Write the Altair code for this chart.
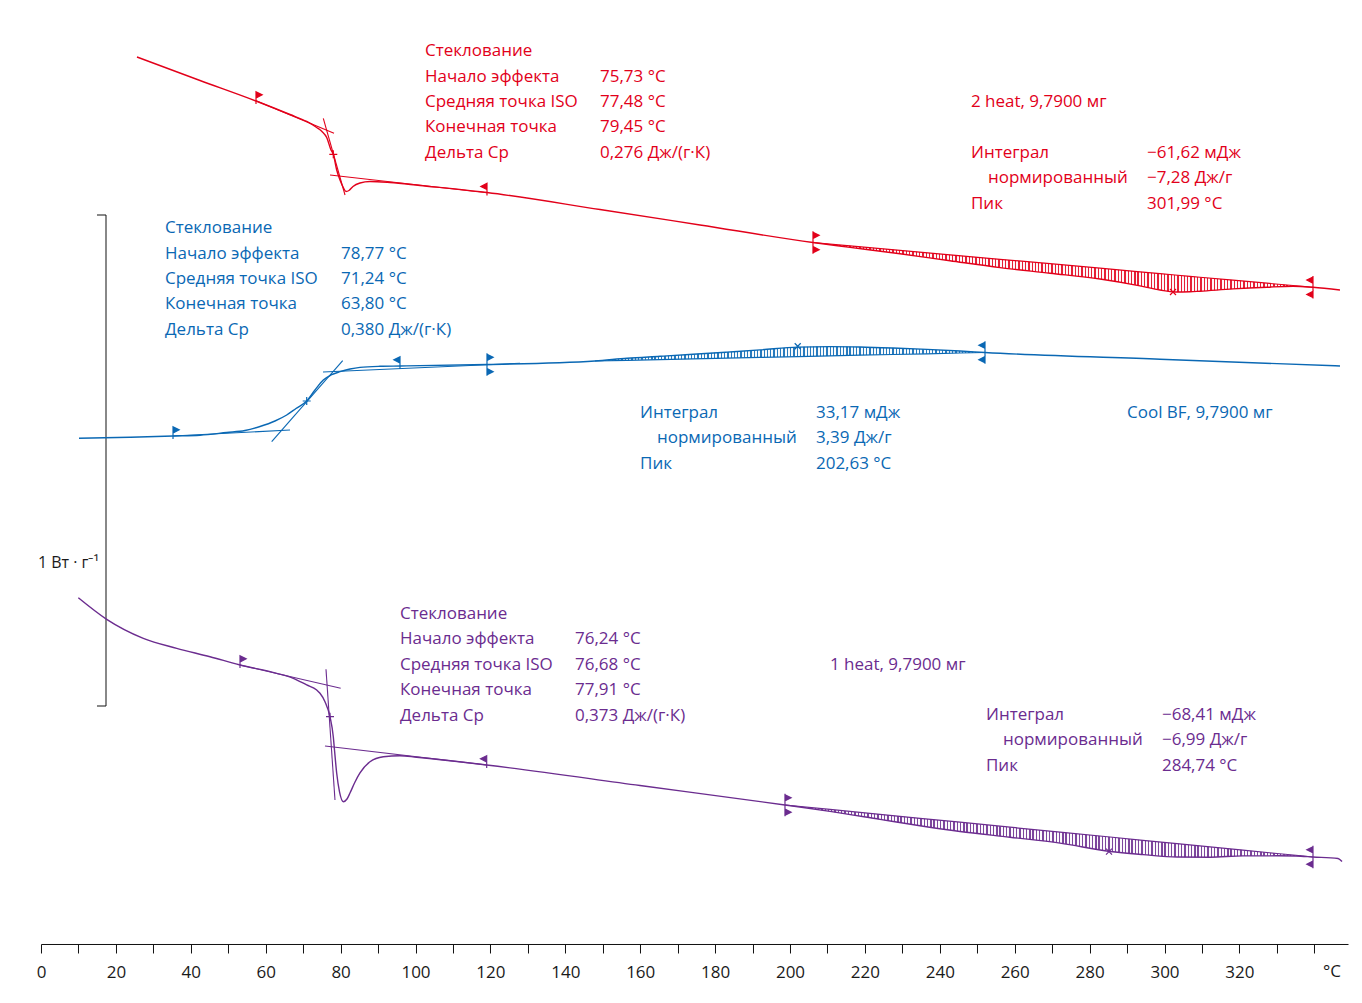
import altair as alt
import pandas as pd

RED, BLUE, PURPLE = "#e2001a", "#0a68b4", "#6b2c8f"
SERIES = ["2 heat", "Cool BF", "1 heat"]
COLORS = [RED, BLUE, PURPLE]
FONT = "Open Sans"

# ---------------- curves: temperature (°C) and heat flow (W/g, shifted for display)
red_T = [25.63, 42.46, 57.41, 66.49, 70.95, 73.62, 75.03, 76.29, 77.44, 78.05, 78.96, 79.84,
         80.72, 81.44, 82.24, 83.31, 85.18, 87.85, 93.19, 101.20, 119.09, 149.27, 175.97,
         206.14, 216.02, 229.37, 242.72, 256.07, 269.43, 282.78, 293.46, 298.80, 302.80,
         306.81, 309.48, 318.29, 327.37, 334.31, 339.65, 346.86]
red_Y = [1.8065, 1.7587, 1.7169, 1.6894, 1.6752, 1.6629, 1.6548, 1.6426, 1.6171, 1.6083,
         1.5764, 1.5560, 1.5407, 1.5326, 1.5346, 1.5428, 1.5499, 1.5530, 1.5509, 1.5448,
         1.5305, 1.4959, 1.4644, 1.4287, 1.4189, 1.4057, 1.3915, 1.3776, 1.3662, 1.3544,
         1.3405, 1.3320, 1.3279, 1.3283, 1.3295, 1.3342, 1.3377, 1.3396, 1.3375, 1.3320]
red_peak_slice = (23, 39)
red_base_Y = [1.4287, 1.4220, 1.4128, 1.4037, 1.3945, 1.3855, 1.3764, 1.3690, 1.3654,
              1.3625, 1.3599, 1.3580, 1.3521, 1.3458, 1.3411, 1.3375]

blue_T = [10.15, 23.77, 35.25, 42.46, 49.59, 54.47, 58.48, 62.48, 65.61, 68.09, 70.95, 73.16,
          75.38, 77.44, 79.84, 82.51, 85.18, 90.52, 95.86, 119.09, 147.93, 156.48, 165.29,
          174.10, 183.18, 191.99, 202.14, 210.68, 218.69, 227.50, 236.58, 245.39, 252.07,
          298.80, 346.86]
blue_Y = [1.0299, 1.0322, 1.0346, 1.0363, 1.0418, 1.0458, 1.0540, 1.0652, 1.0774, 1.0906,
          1.1059, 1.1283, 1.1487, 1.1589, 1.1656, 1.1711, 1.1745, 1.1766, 1.1772, 1.1802,
          1.1874, 1.1929, 1.1969, 1.2010, 1.2055, 1.2100, 1.2157, 1.2167, 1.2159, 1.2138,
          1.2110, 1.2077, 1.2047, 1.1910, 1.1772]
blue_peak_slice = (20, 33)
blue_base_Y = [1.1874, 1.1888, 1.1902, 1.1916, 1.1933, 1.1947, 1.1963, 1.1978, 1.1992,
               1.2006, 1.2020, 1.2037, 1.2047]

purple_T = [9.96, 17.54, 27.32, 36.24, 45.13, 53.14, 62.94, 67.37, 70.95, 73.62, 74.50, 75.83,
            77.17, 78.05, 78.37, 78.96, 79.71, 80.72, 81.71, 82.51, 83.85, 85.18, 87.85, 91.40,
            95.86, 100.32, 119.01, 159.95, 198.66, 210.68, 224.03, 234.71, 245.39, 258.74,
            272.10, 285.45, 294.26, 303.34, 312.15, 320.96, 330.04, 335.11, 339.65, 346.33,
            347.40]
purple_Y = [0.7053, 0.6613, 0.6226, 0.6022, 0.5851, 0.5682, 0.5513, 0.5411, 0.5275, 0.5173,
            0.5106, 0.4935, 0.4629, 0.4222, 0.3951, 0.3477, 0.3096, 0.2898, 0.2953, 0.3075,
            0.3299, 0.3483, 0.3713, 0.3815, 0.3835, 0.3802, 0.3646, 0.3228, 0.2831, 0.2701,
            0.2538, 0.2407, 0.2291, 0.2175, 0.2055, 0.1884, 0.1821, 0.1772, 0.1768, 0.1794,
            0.1796, 0.1792, 0.1772, 0.1741, 0.1680]
purple_peak_slice = (28, 43)
purple_base_Y = [0.2831, 0.2741, 0.2640, 0.2560, 0.2481, 0.2379, 0.2279, 0.2179, 0.2112,
                 0.2045, 0.1978, 0.1912, 0.1843, 0.1807, 0.1772]

# ---------------- glass-transition tangents (series, [T1, T2], [Y1, Y2])
tangents = [
    ("2 heat", [57.41, 78.24], [1.7175, 1.6511]),
    ("2 heat", [75.38, 81.18], [1.6817, 1.5255]),
    ("2 heat", [77.17, 119.01], [1.5662, 1.5301]),
    ("Cool BF", [35.25, 66.49], [1.0346, 1.0468]),
    ("Cool BF", [61.60, 80.56], [1.0230, 1.1880]),
    ("Cool BF", [75.30, 127.90], [1.1650, 1.1827]),
    ("1 heat", [53.14, 80.03], [0.5682, 0.5208]),
    ("1 heat", [76.10, 78.50], [0.5595, 0.2933]),
    ("1 heat", [75.83, 119.01], [0.4033, 0.3646]),
]

# ---------------- evaluation limits (series, T, Y, kind)
limits = [
    ("2 heat", 57.41, 1.7169, "R"), ("2 heat", 119.09, 1.5305, "L"),
    ("2 heat", 206.14, 1.4287, "RR"), ("2 heat", 339.65, 1.3375, "LL"),
    ("Cool BF", 35.25, 1.0346, "R"), ("Cool BF", 95.86, 1.1772, "L"),
    ("Cool BF", 119.09, 1.1802, "RR"), ("Cool BF", 252.07, 1.2047, "LL"),
    ("1 heat", 53.14, 0.5682, "R"), ("1 heat", 119.01, 0.3646, "L"),
    ("1 heat", 198.66, 0.2831, "RR"), ("1 heat", 339.65, 0.1772, "LL"),
]
midpoints = [("2 heat", 78.05, 1.6083), ("Cool BF", 70.95, 1.1059), ("1 heat", 77.17, 0.4629)]
peaks = [("2 heat", 302.27, 1.3279), ("Cool BF", 202.06, 1.2175), ("1 heat", 285.18, 0.1880)]

# ---------------- annotation texts
GLASS_LABELS = ["Стеклование", "Начало эффекта", "Средняя точка ISO", "Конечная точка", "Дельта Cp"]
PEAK_LABELS = ["Интеграл", "нормированный", "Пик"]
red_glass_values = ["", "75,73 °C", "77,48 °C", "79,45 °C", "0,276 Дж/(г·К)"]
blue_glass_values = ["", "78,77 °C", "71,24 °C", "63,80 °C", "0,380 Дж/(г·К)"]
purple_glass_values = ["", "76,24 °C", "76,68 °C", "77,91 °C", "0,373 Дж/(г·К)"]
red_peak_values = ["−61,62 мДж", "−7,28 Дж/г", "301,99 °C"]
blue_peak_values = ["33,17 мДж", "3,39 Дж/г", "202,63 °C"]
purple_peak_values = ["−68,41 мДж", "−6,99 Дж/г", "284,74 °C"]
sample_labels = ["2 heat, 9,7900 мг", "Cool BF, 9,7900 мг", "1 heat, 9,7900 мг"]

# block anchors: (label T, value T, first-row Y)
glass_anchor = {"2 heat": (102.54, 149.27, 1.8187), "Cool BF": (33.11, 80.11, 1.4582),
                "1 heat": (95.86, 142.59, 0.6721)}
peak_anchor = {"2 heat": (248.33, 295.33, 1.6110), "Cool BF": (159.95, 206.94, 1.0815),
               "1 heat": (252.34, 299.33, 0.4664)}
sample_anchor = {"2 heat": (248.33, 1.7149), "Cool BF": (289.99, 1.0815), "1 heat": (210.68, 0.5682)}
ROW = 0.0519
INDENT = 4.54

# scale bar: 1 W/g
bar_T = [14.95, 17.36, 17.36, 14.95]
bar_Y = [1.4847, 1.4847, 0.4847, 0.4847]

# ---------------- build frames
curve_rows, peak_rows = [], []
for name, T, Y, sl, B in [("2 heat", red_T, red_Y, red_peak_slice, red_base_Y),
                          ("Cool BF", blue_T, blue_Y, blue_peak_slice, blue_base_Y),
                          ("1 heat", purple_T, purple_Y, purple_peak_slice, purple_base_Y)]:
    for i, (t, y) in enumerate(zip(T, Y)):
        curve_rows.append({"series": name, "T": t, "Y": y, "i": i})
    for j, (t, y, b) in enumerate(zip(T[sl[0]:sl[1]], Y[sl[0]:sl[1]], B)):
        peak_rows.append({"series": name, "T": t, "Y": y, "B": b, "i": j})
curves = pd.DataFrame(curve_rows)
peakdf = pd.DataFrame(peak_rows)

tan_rows = []
for k, (name, ts, ys) in enumerate(tangents):
    for t, y in zip(ts, ys):
        tan_rows.append({"series": name, "tid": k, "T": t, "Y": y})
tandf = pd.DataFrame(tan_rows)

FLAG_PATHS = {
    "R": "M0,-0.9L0,0.3M0,-0.9L0.6,-0.6L0,-0.3Z",
    "L": "M0,-0.9L0,0.3M0,-0.9L-0.6,-0.6L0,-0.3Z",
    "RR": "M0,-1.1L0,1.1M0,-1L0.6,-0.7L0,-0.4ZM0,0.4L0.6,0.7L0,1Z",
    "LL": "M0,-1.1L0,1.1M0,-1L-0.6,-0.7L0,-0.4ZM0,0.4L-0.6,0.7L0,1Z",
}
flagdf = pd.DataFrame([{"series": s, "T": t, "Y": y, "shape": FLAG_PATHS[k]} for s, t, y, k in limits])
PLUS = "M-0.4,0L0.4,0M0,-0.4L0,0.4"
CROSS = "M-0.3,-0.3L0.3,0.3M-0.3,0.3L0.3,-0.3"
markdf = pd.DataFrame([{"series": s, "T": t, "Y": y, "shape": PLUS} for s, t, y in midpoints] +
                      [{"series": s, "T": t, "Y": y, "shape": CROSS} for s, t, y in peaks])

text_rows = []
gv = {"2 heat": red_glass_values, "Cool BF": blue_glass_values, "1 heat": purple_glass_values}
pv = {"2 heat": red_peak_values, "Cool BF": blue_peak_values, "1 heat": purple_peak_values}
for s, sample in zip(SERIES, sample_labels):
    lt, vt, y0 = glass_anchor[s]
    for r, (lab, val) in enumerate(zip(GLASS_LABELS, gv[s])):
        text_rows.append({"series": s, "T": lt, "Y": y0 - r * ROW, "text": lab})
        if val:
            text_rows.append({"series": s, "T": vt, "Y": y0 - r * ROW, "text": val})
    lt, vt, y0 = peak_anchor[s]
    for r, (lab, val) in enumerate(zip(PEAK_LABELS, pv[s])):
        text_rows.append({"series": s, "T": lt + (INDENT if r == 1 else 0), "Y": y0 - r * ROW, "text": lab})
        text_rows.append({"series": s, "T": vt, "Y": y0 - r * ROW, "text": val})
    st, sy = sample_anchor[s]
    text_rows.append({"series": s, "T": st, "Y": sy, "text": sample})
textdf = pd.DataFrame(text_rows)

bardf = pd.DataFrame({"T": bar_T, "Y": bar_Y, "i": range(4)})

# ---------------- scales / encodings
PX_PER_DEG = 3.745
XMAX = 349
W = XMAX * PX_PER_DEG
H = 936
YMAX = 936 / 491

cs = alt.Scale(domain=SERIES, range=COLORS)
xaxis = alt.Axis(values=list(range(0, 341, 10)),
                 labelExpr="datum.value % 20 == 0 && datum.value < 340 ? datum.label : ''",
                 title=None, grid=False, tickSize=9, labelPadding=12, domainColor="#111",
                 tickColor="#111", labelColor="#1a1a1a", labelFont=FONT, labelFontSize=17,
                 labelFlush=False, labelOverlap=False, domainWidth=1, tickWidth=1)
X = alt.X("T:Q", scale=alt.Scale(domain=[0, XMAX], nice=False, zero=False), axis=xaxis)
YS = alt.Scale(domain=[0, YMAX], nice=False, zero=False)
Y = alt.Y("Y:Q", scale=YS, axis=None)
C = alt.Color("series:N", scale=cs, legend=None)


def hatch(color, width_px, period=3.3, frac=0.4):
    n = max(1, int(width_px / period))
    stops = []
    for k in range(n):
        a, b, c = k / n, (k + frac) / n, (k + 1) / n
        stops += [{"offset": round(a, 5), "color": color},
                  {"offset": round(b, 5), "color": color},
                  {"offset": round(b, 5), "color": "#ffffff"},
                  {"offset": round(c, 5), "color": "#ffffff"}]
    return alt.LinearGradient(gradient="linear", x1=0, x2=1, y1=0, y2=0,
                              stops=[alt.GradientStop(**s) for s in stops])


layers = []
# faint tint under the hatching
layers.append(alt.Chart(peakdf).mark_area(interpolate="monotone", opacity=0.18).encode(
    x=X, y=Y, y2=alt.Y2("B:Q"), color=C, detail="series:N"))
for s, col in zip(SERIES, COLORS):
    sub = peakdf[peakdf.series == s]
    wpx = (sub["T"].max() - sub["T"].min()) * PX_PER_DEG
    layers.append(alt.Chart(sub).mark_area(fill=hatch(col, wpx), interpolate="monotone",
                                           opacity=0.85).encode(
        x=X, y=Y, y2=alt.Y2("B:Q")))

baselines = alt.Chart(peakdf).mark_line(strokeWidth=1.2).encode(
    x=X, y=alt.Y("B:Q", scale=YS, axis=None), color=C, detail="series:N", order="i:Q")
tang = alt.Chart(tandf).mark_line(strokeWidth=1.1).encode(x=X, y=Y, color=C, detail="tid:N")
lines = alt.Chart(curves).mark_line(strokeWidth=1.4, interpolate="monotone").encode(
    x=X, y=Y, color=C, detail="series:N", order="i:Q")
flags = alt.Chart(flagdf).mark_point(filled=True, opacity=1, size=420, strokeWidth=1.2).encode(
    x=X, y=Y, shape=alt.Shape("shape:N", scale=None),
    fill=alt.Fill("series:N", scale=cs, legend=None),
    stroke=alt.Stroke("series:N", scale=cs, legend=None))
marks = alt.Chart(markdf).mark_point(filled=False, opacity=1, size=400, strokeWidth=1.2).encode(
    x=X, y=Y, shape=alt.Shape("shape:N", scale=None), color=C)
texts = alt.Chart(textdf).mark_text(align="left", baseline="middle", font=FONT, fontSize=17,
                                    fontWeight=500).encode(
    x=X, y=Y, text="text:N", color=C)
bar = alt.Chart(bardf).mark_line(color="#111", strokeWidth=1).encode(x=X, y=Y, order="i:Q")
bar_label = alt.Chart(pd.DataFrame({"T": [15.49], "Y": [0.776], "text": ["1 Вт · г⁻¹"]})).mark_text(
    align="right", baseline="middle", font=FONT, fontSize=16, color="#1a1a1a").encode(
    x=X, y=Y, text="text:N")
unit_label = alt.Chart(pd.DataFrame({"T": [344.7], "Y": [-0.057], "text": ["°C"]})).mark_text(
    align="center", baseline="middle", font=FONT, fontSize=17, color="#1a1a1a").encode(
    x=X, y=Y, text="text:N")

chart = alt.layer(*layers, baselines, bar, tang, lines, flags, marks, texts, bar_label,
                  unit_label).properties(
    width=W, height=H,
    padding={"left": 33, "top": 0, "right": 6, "bottom": 50},
    autosize=alt.AutoSizeParams(type="none"),
    background="white",
).configure_view(stroke=None)

chart.save("out.html", embed_options={"renderer": "svg", "actions": False})
